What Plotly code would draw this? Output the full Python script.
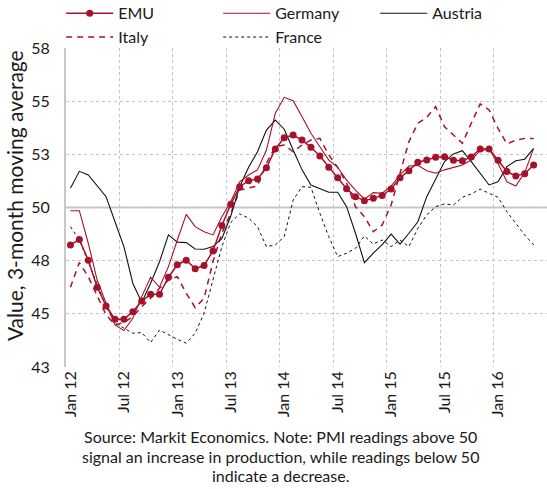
import plotly.graph_objects as go

# Monthly categories Jan 2012 .. May 2016
months = []
for yr in range(12, 17):
    for m in ["Jan", "Feb", "Mar", "Apr", "May", "Jun", "Jul", "Aug", "Sep", "Oct", "Nov", "Dec"]:
        months.append(f"{m} {yr}")
months = months[:53]

emu = [48.24, 48.5, 47.52, 46.25, 45.37, 44.75, 44.75, 45.1, 45.6, 45.92, 45.92, 46.72,
       47.31, 47.52, 47.12, 47.27, 47.96, 49.15, 50.15, 50.98, 51.26, 51.34, 51.87, 52.75,
       53.28, 53.41, 53.17, 52.83, 52.42, 51.89, 51.4, 50.88, 50.51, 50.32, 50.43, 50.57,
       50.87, 51.4, 51.73, 52.13, 52.23, 52.36, 52.39, 52.22, 52.2, 52.38, 52.75, 52.75,
       52.22, 51.69, 51.48, 51.59, 52.0]
germany = [49.85, 49.85, 48.32, 46.59, 45.5, 44.48, 44.21, 44.79, 45.81, 46.72, 46.25, 47.22,
           48.47, 49.68, 49.1, 48.86, 48.71, 49.57, 50.27, 51.21, 51.53, 51.77, 52.7, 54.43,
           55.18, 55.02, 54.27, 53.49, 52.86, 52.23, 51.89, 51.29, 50.82, 50.39, 50.7, 50.67,
           51.01, 51.53, 51.95, 51.98, 51.73, 51.61, 51.77, 51.89, 52.0, 52.23, 52.67, 52.74,
           52.08, 51.21, 51.01, 51.64, 52.78]
austria = [50.9, 51.7, 51.53, 51.01, 50.51, 49.33, 48.16, 46.44, 45.53, 46.44, 47.45, 48.71,
           48.37, 48.35, 48.05, 48.04, 48.16, 48.55, 49.6, 50.98, 51.89, 52.62, 53.64, 54.11,
           53.68, 52.7, 51.77, 51.06, 50.9, 50.72, 50.72, 50.04, 48.79, 47.41, 47.85, 48.25,
           48.75, 48.28, 48.79, 49.33, 50.51, 51.37, 52.16, 52.52, 52.67, 52.16, 51.61, 51.06,
           51.21, 51.92, 52.2, 52.27, 52.78]
italy = [46.25, 47.41, 46.75, 45.81, 44.95, 44.48, 44.59, 44.87, 45.34, 45.73, 46.2, 46.59,
         46.75, 45.97, 45.29, 45.73, 47.45, 48.79, 49.73, 50.82, 50.9, 51.01, 52.08, 52.86,
         52.94, 52.62, 52.94, 53.17, 53.25, 52.47, 51.89, 51.14, 50.04, 49.57, 48.86, 49.18,
         50.12, 51.61, 53.1, 53.96, 54.24, 54.74, 53.8, 53.41, 53.02, 53.96, 54.87, 54.59,
         53.72, 52.99, 53.17, 53.25, 53.25]
france = [49.1, 48.47, 47.45, 46.44, 45.34, 44.56, 44.32, 44.09, 44.12, 43.65, 44.24, 44.01,
          43.8, 43.62, 44.09, 45.03, 46.59, 48.16, 49.3, 49.7, 49.5, 49.1, 48.16, 48.24,
          48.63, 50.35, 50.98, 50.95, 49.73, 48.63, 47.69, 47.85, 48.08, 48.66, 48.28, 48.47,
          48.16, 48.47, 48.16, 49.02, 49.65, 50.04, 50.17, 50.12, 50.48, 50.64, 50.86, 50.67,
          50.48, 49.8, 49.26, 48.71, 48.24]

y_ticks = [42.5, 45, 47.5, 50, 52.5, 55, 57.5]
y_labels = ["43", "45", "48", "50", "53", "55", "58"]

y_title = "Value, 3-month moving average"
source_lines = ["Source: Markit Economics. Note: PMI readings above 50",
                "signal an increase in production, while readings below 50",
                "indicate a decrease."]

RED = "#a6112b"
FONT = "Lato"

fig = go.Figure()
fig.add_trace(go.Scatter(x=months, y=france, name="France", mode="lines",
                         line=dict(color="#111111", width=1, dash="3px,3px"), legendrank=5))
fig.add_trace(go.Scatter(x=months, y=italy, name="Italy", mode="lines",
                         line=dict(color=RED, width=1.5, dash="6px,5px"), legendrank=4))
fig.add_trace(go.Scatter(x=months, y=austria, name="Austria", mode="lines",
                         line=dict(color="#111111", width=1.1), legendrank=3))
fig.add_trace(go.Scatter(x=months, y=germany, name="Germany", mode="lines",
                         line=dict(color=RED, width=1.1), legendrank=2))
fig.add_trace(go.Scatter(x=months, y=emu, name="EMU", mode="lines+markers",
                         line=dict(color=RED, width=1.5),
                         marker=dict(color=RED, size=7), legendrank=1))

fig.add_shape(type="line", xref="paper", x0=0, x1=1, yref="y", y0=50, y1=50,
              line=dict(color="#c8c8c8", width=2), layer="below")

annotations = [dict(text=y_title, xref="paper", yref="paper", x=-0.108, y=0.536,
                    xanchor="center", yanchor="middle", textangle=-90, showarrow=False,
                    font=dict(size=21, family=FONT, color="#1a1a1a"))]
for txt, yy in zip(source_lines, [-0.2194, -0.279, -0.3386]):
    annotations.append(dict(text=txt, xref="paper", yref="paper", x=0.445, y=yy,
                            xanchor="center", yanchor="middle", showarrow=False,
                            font=dict(size=16, family=FONT, color="#1a1a1a")))

fig.update_layout(
    width=547, height=489,
    margin=dict(l=66, r=0, t=48, b=122, autoexpand=False),
    plot_bgcolor="white", paper_bgcolor="white",
    font=dict(family=FONT, size=16, color="#1a1a1a"),
    showlegend=True,
    legend=dict(orientation="h", x=-0.010, xanchor="left", y=1.162,
                yanchor="top", entrywidth=95, entrywidthmode="pixels",
                traceorder="normal", font=dict(size=16), tracegroupgap=0, itemwidth=47,
                bgcolor="rgba(0,0,0,0)"),
    xaxis=dict(type="category", categoryorder="array", categoryarray=months,
               range=[-0.5, 53.5], dtick=6, tickson="boundaries", tickangle=-90,
               showgrid=True, gridcolor="#c4c4c4", griddash="dot", gridwidth=1,
               ticks="", showline=False, zeroline=False, automargin=False,
               tickfont=dict(size=16)),
    yaxis=dict(range=[42.5, 57.5], tickmode="array", tickvals=y_ticks, ticktext=y_labels,
               showgrid=True, gridcolor="#c4c4c4", griddash="dot", gridwidth=1,
               showline=True, linecolor="#c8c8c8", linewidth=2, zeroline=False,
               ticks="", tickfont=dict(size=16), automargin=False, ticklabelstandoff=11),
    annotations=annotations,
)

# remove the browser's default 8px body margin so the figure sits at the page origin
fig.write_html("out.html", config={"displayModeBar": False},
               post_script="document.body.style.margin='0';")
